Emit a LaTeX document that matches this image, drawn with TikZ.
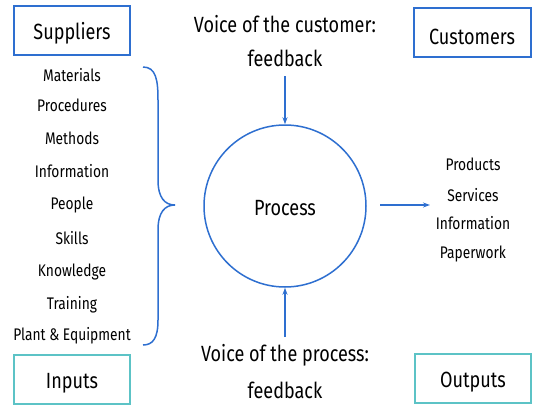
\documentclass[tikz,border=0pt]{standalone}
\usepackage{fontspec}
\setmainfont[FakeStretch=0.82]{Fira Sans}
\usetikzlibrary{arrows.meta}
\definecolor{lblue}{HTML}{2E6FD0}
\definecolor{teal}{HTML}{5CC3C6}
\begin{document}
\begin{tikzpicture}[x=1pt,y=-1pt,
  bigtxt/.style={font=\fontsize{22}{26}\selectfont, inner sep=0pt},
  smalltxt/.style={font=\fontsize{16.8}{20}\selectfont, inner sep=0pt},
  bluebox/.style={draw=lblue, line width=1.4pt},
  tealbox/.style={draw=teal, line width=1.4pt},
  conn/.style={draw=lblue, line width=1.3pt, -{Stealth[length=7pt,width=5pt]}}]
\useasboundingbox (0,0) rectangle (541,415);
% boxes
\draw[bluebox] (14,6) rectangle (130,55);
\node[bigtxt] (sup) at (72,33.5) {Suppliers};
\draw[bluebox] (414,8) rectangle (531,57);
\node[bigtxt] (cus) at (472,36.5) {Customers};
\draw[tealbox] (14,355) rectangle (130,404);
\node[bigtxt] (inp) at (72,383.5) {Inputs};
\draw[tealbox] (415,354) rectangle (531,403);
\node[bigtxt] (out) at (473,382.5) {Outputs};
% process circle
\node[draw=lblue, line width=1.5pt, circle, minimum size=162pt] (proc) at (285,206) {};
\node[bigtxt] (proctxt) at (285,208) {Process};
% voices
\node[bigtxt] (voc1) at (285,24.5) {Voice of the customer:};
\node[bigtxt] (voc2) at (285,58.5) {feedback};
\node[bigtxt] (vop1) at (285,355.5) {Voice of the process:};
\node[bigtxt] (vop2) at (285,390.5) {feedback};
\coordinate (topstart) at (285,76);
\coordinate (botstart) at (285,337);
\draw[conn] (topstart) -- (proc.north);
\draw[conn] (botstart) -- (proc.south);
% inputs list
\foreach \t/\y [count=\i] in {Materials/75, Procedures/105, Methods/138, Information/171, People/205, Skills/238, Knowledge/272, Training/305, Plant \& Equipment/336}
  \node[smalltxt] (in\i) at (72,\y) {\t};
% outputs list
\node[smalltxt] (o1) at (473,164.5) {Products};
\node[smalltxt] (o2) at (473,195.5) {Services};
\node[smalltxt] (o3) at (473,223.5) {Information};
\node[smalltxt] (o4) at (473,253.5) {Paperwork};
\coordinate (rstart) at (380,205);
\coordinate (rend) at (430,205);
\draw[conn] (rstart) -- (rend);
% brace
\coordinate (bt) at (143,67);
\coordinate (btip) at (175,205);
\coordinate (bb) at (143,345);
\draw[lblue, line width=1.5pt] (bt) .. controls (156,67) and (158,80) .. (158,100)
  -- (158,180) .. controls (158,198) and (165,205) .. (btip)
  .. controls (165,205) and (158,212) .. (158,230)
  -- (158,320) .. controls (158,338) and (153,345) .. (bb);
\end{tikzpicture}
\end{document}
